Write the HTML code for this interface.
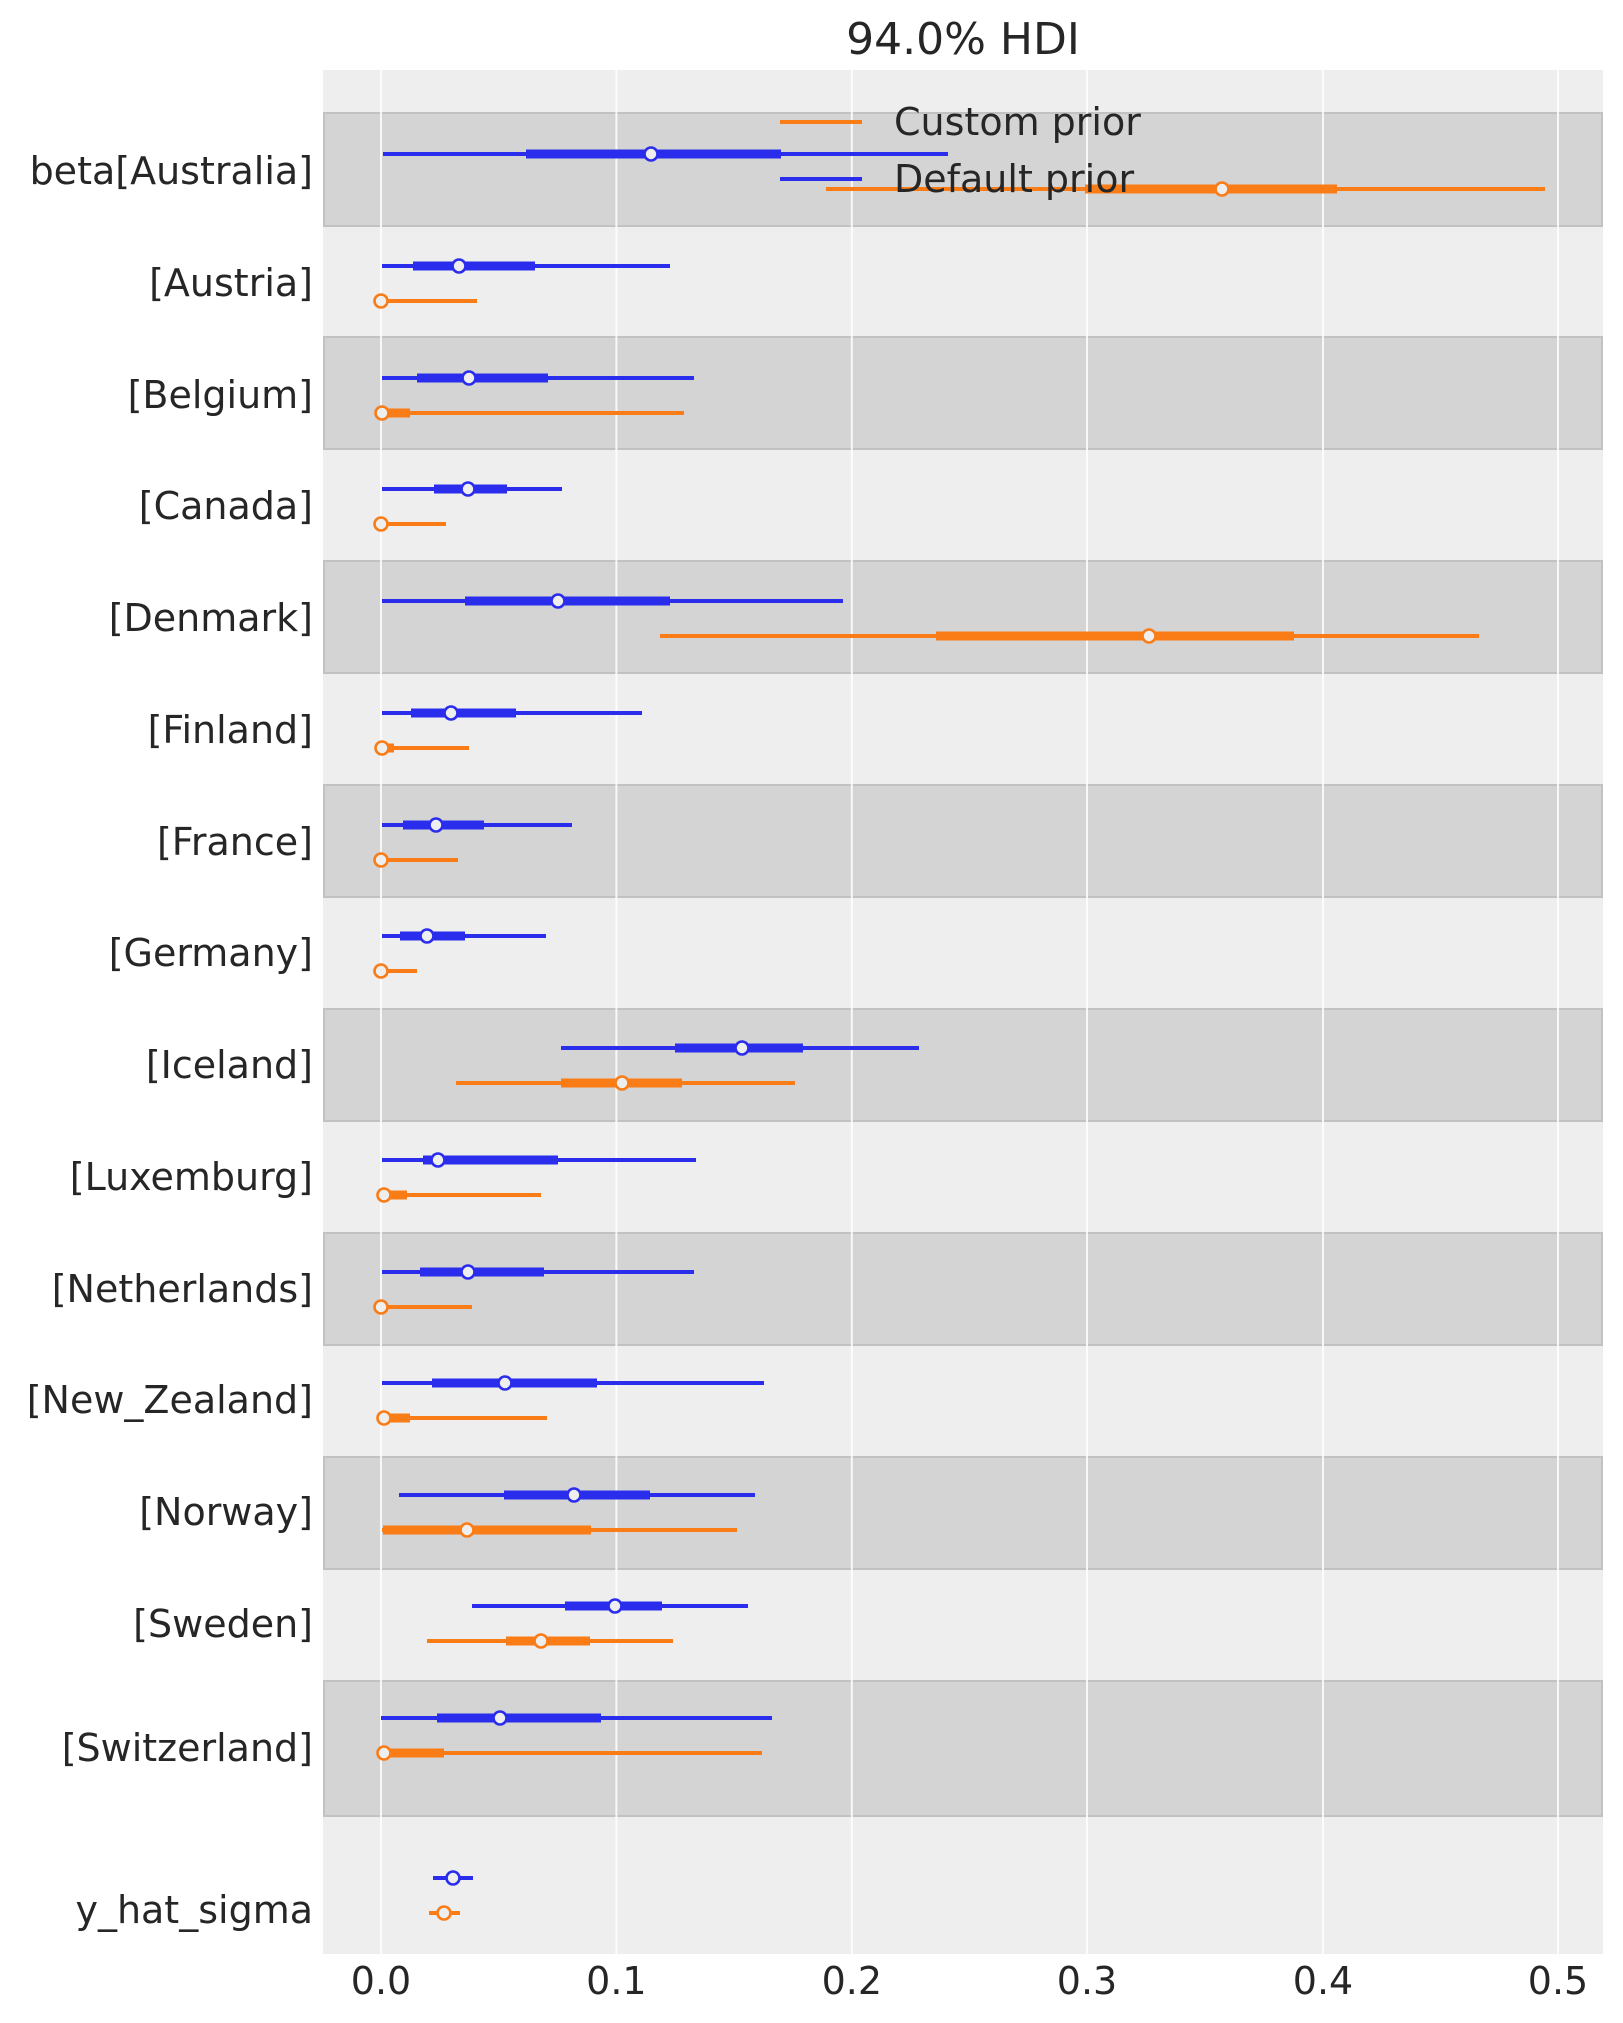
<!DOCTYPE html>
<html><head><meta charset="utf-8"><style>
html,body{margin:0;padding:0;background:#fff;}
svg{display:block;font-family:"DejaVu Sans","Liberation Sans",sans-serif;}
</style></head><body>
<svg width="1623" height="2023" viewBox="0 0 1623 2023" xmlns="http://www.w3.org/2000/svg">
<rect x="0" y="0" width="1623" height="2023" fill="#fff"/>
<rect x="323" y="70" width="1280" height="1884" fill="#eeeeee"/>
<g fill="#d4d4d4" stroke="#c2c2c2" stroke-width="2">
<rect x="324" y="113" width="1278" height="113"/>
<rect x="324" y="337" width="1278" height="112"/>
<rect x="324" y="561" width="1278" height="112"/>
<rect x="324" y="785" width="1278" height="112"/>
<rect x="324" y="1009" width="1278" height="112"/>
<rect x="324" y="1233" width="1278" height="112"/>
<rect x="324" y="1457" width="1278" height="112"/>
<rect x="324" y="1681" width="1278" height="135"/>
</g>
<g stroke="#ffffff" stroke-width="2" opacity="0.85">
<line x1="381" y1="70" x2="381" y2="1954"/>
<line x1="616.4" y1="70" x2="616.4" y2="1954"/>
<line x1="851.8" y1="70" x2="851.8" y2="1954"/>
<line x1="1087" y1="70" x2="1087" y2="1954"/>
<line x1="1323" y1="70" x2="1323" y2="1954"/>
<line x1="1558" y1="70" x2="1558" y2="1954"/>
</g>
<text x="963" y="54" font-size="44" text-anchor="middle" fill="#262626">94.0% HDI</text>
<g font-size="38" fill="#262626" text-anchor="end">
<text x="313" y="184">beta[Australia]</text>
<text x="313" y="296">[Austria]</text>
<text x="313" y="408">[Belgium]</text>
<text x="313" y="519">[Canada]</text>
<text x="313" y="631">[Denmark]</text>
<text x="313" y="743">[Finland]</text>
<text x="313" y="855">[France]</text>
<text x="313" y="966">[Germany]</text>
<text x="313" y="1078">[Iceland]</text>
<text x="313" y="1190">[Luxemburg]</text>
<text x="313" y="1302">[Netherlands]</text>
<text x="313" y="1413">[New_Zealand]</text>
<text x="313" y="1525">[Norway]</text>
<text x="313" y="1637">[Sweden]</text>
<text x="313" y="1761">[Switzerland]</text>
<text x="313" y="1923">y_hat_sigma</text>
</g>
<g font-size="38" fill="#262626" text-anchor="middle">
<text x="381" y="1994">0.0</text>
<text x="616.4" y="1994">0.1</text>
<text x="851.8" y="1994">0.2</text>
<text x="1087" y="1994">0.3</text>
<text x="1323" y="1994">0.4</text>
<text x="1558" y="1994">0.5</text>
</g>
<g stroke="#2a2eec" fill="none">
<g stroke-width="4">
<line x1="383" y1="154" x2="948" y2="154"/>
<line x1="382" y1="266" x2="670" y2="266"/>
<line x1="382" y1="378" x2="694" y2="378"/>
<line x1="382" y1="489" x2="562" y2="489"/>
<line x1="382" y1="601" x2="843" y2="601"/>
<line x1="382" y1="713" x2="642" y2="713"/>
<line x1="382" y1="825" x2="572" y2="825"/>
<line x1="382" y1="936" x2="546" y2="936"/>
<line x1="561" y1="1048" x2="919" y2="1048"/>
<line x1="382" y1="1160" x2="696" y2="1160"/>
<line x1="382" y1="1272" x2="694" y2="1272"/>
<line x1="382" y1="1383" x2="764" y2="1383"/>
<line x1="399" y1="1495" x2="755" y2="1495"/>
<line x1="472" y1="1606" x2="748" y2="1606"/>
<line x1="381" y1="1718" x2="772" y2="1718"/>
<line x1="433" y1="1878" x2="473" y2="1878"/>
</g>
<g stroke-width="9">
<line x1="526" y1="154" x2="781" y2="154"/>
<line x1="413" y1="266" x2="535" y2="266"/>
<line x1="417" y1="378" x2="548" y2="378"/>
<line x1="434" y1="489" x2="507" y2="489"/>
<line x1="465" y1="601" x2="670" y2="601"/>
<line x1="411" y1="713" x2="516" y2="713"/>
<line x1="403" y1="825" x2="484" y2="825"/>
<line x1="400" y1="936" x2="465" y2="936"/>
<line x1="675" y1="1048" x2="803" y2="1048"/>
<line x1="423" y1="1160" x2="558" y2="1160"/>
<line x1="420" y1="1272" x2="544" y2="1272"/>
<line x1="432" y1="1383" x2="597" y2="1383"/>
<line x1="504" y1="1495" x2="650" y2="1495"/>
<line x1="565" y1="1606" x2="662" y2="1606"/>
<line x1="437" y1="1718" x2="601" y2="1718"/>
</g>
<g stroke-width="2.6" fill="#eeeeee">
<circle cx="651" cy="154" r="6.5"/>
<circle cx="459" cy="266" r="6.5"/>
<circle cx="469" cy="378" r="6.5"/>
<circle cx="468" cy="489" r="6.5"/>
<circle cx="558" cy="601" r="6.5"/>
<circle cx="451" cy="713" r="6.5"/>
<circle cx="436" cy="825" r="6.5"/>
<circle cx="427" cy="936" r="6.5"/>
<circle cx="742" cy="1048" r="6.5"/>
<circle cx="438" cy="1160" r="6.5"/>
<circle cx="468" cy="1272" r="6.5"/>
<circle cx="505" cy="1383" r="6.5"/>
<circle cx="574" cy="1495" r="6.5"/>
<circle cx="615" cy="1606" r="6.5"/>
<circle cx="500" cy="1718" r="6.5"/>
<circle cx="453" cy="1878" r="6.5"/>
</g>
</g>
<g stroke="#fa7c17" fill="none">
<g stroke-width="4">
<line x1="826" y1="189" x2="1545" y2="189"/>
<line x1="381" y1="301" x2="477" y2="301"/>
<line x1="382" y1="413" x2="684" y2="413"/>
<line x1="381" y1="524" x2="446" y2="524"/>
<line x1="660" y1="636" x2="1479" y2="636"/>
<line x1="382" y1="748" x2="469" y2="748"/>
<line x1="381" y1="860" x2="458" y2="860"/>
<line x1="381" y1="971" x2="417" y2="971"/>
<line x1="456" y1="1083" x2="795" y2="1083"/>
<line x1="383" y1="1195" x2="541" y2="1195"/>
<line x1="381" y1="1307" x2="472" y2="1307"/>
<line x1="383" y1="1418" x2="547" y2="1418"/>
<line x1="382" y1="1530" x2="737" y2="1530"/>
<line x1="427" y1="1641" x2="673" y2="1641"/>
<line x1="384" y1="1753" x2="762" y2="1753"/>
<line x1="429" y1="1913" x2="460" y2="1913"/>
</g>
<g stroke-width="9">
<line x1="1085" y1="189" x2="1337" y2="189"/>
<line x1="382" y1="413" x2="410" y2="413"/>
<line x1="936" y1="636" x2="1294" y2="636"/>
<line x1="382" y1="748" x2="394" y2="748"/>
<line x1="561" y1="1083" x2="682" y2="1083"/>
<line x1="383" y1="1195" x2="407" y2="1195"/>
<line x1="383" y1="1418" x2="410" y2="1418"/>
<line x1="383" y1="1530" x2="591" y2="1530"/>
<line x1="506" y1="1641" x2="590" y2="1641"/>
<line x1="384" y1="1753" x2="444" y2="1753"/>
</g>
<g stroke-width="2.6" fill="#eeeeee">
<circle cx="1222" cy="189" r="6.5"/>
<circle cx="381" cy="301" r="6.5"/>
<circle cx="382" cy="413" r="6.5"/>
<circle cx="381" cy="524" r="6.5"/>
<circle cx="1149" cy="636" r="6.5"/>
<circle cx="382" cy="748" r="6.5"/>
<circle cx="381" cy="860" r="6.5"/>
<circle cx="381" cy="971" r="6.5"/>
<circle cx="622" cy="1083" r="6.5"/>
<circle cx="384" cy="1195" r="6.5"/>
<circle cx="381" cy="1307" r="6.5"/>
<circle cx="384" cy="1418" r="6.5"/>
<circle cx="467" cy="1530" r="6.5"/>
<circle cx="541" cy="1641" r="6.5"/>
<circle cx="384" cy="1753" r="6.5"/>
<circle cx="444" cy="1913" r="6.5"/>
</g>
</g>
<line x1="780" y1="122" x2="862" y2="122" stroke="#fa7c17" stroke-width="4"/>
<line x1="780" y1="179" x2="862" y2="179" stroke="#2a2eec" stroke-width="4"/>
<g font-size="38" fill="#262626">
<text x="894" y="135">Custom prior</text>
<text x="894" y="192">Default prior</text>
</g>
</svg>
</body></html>
